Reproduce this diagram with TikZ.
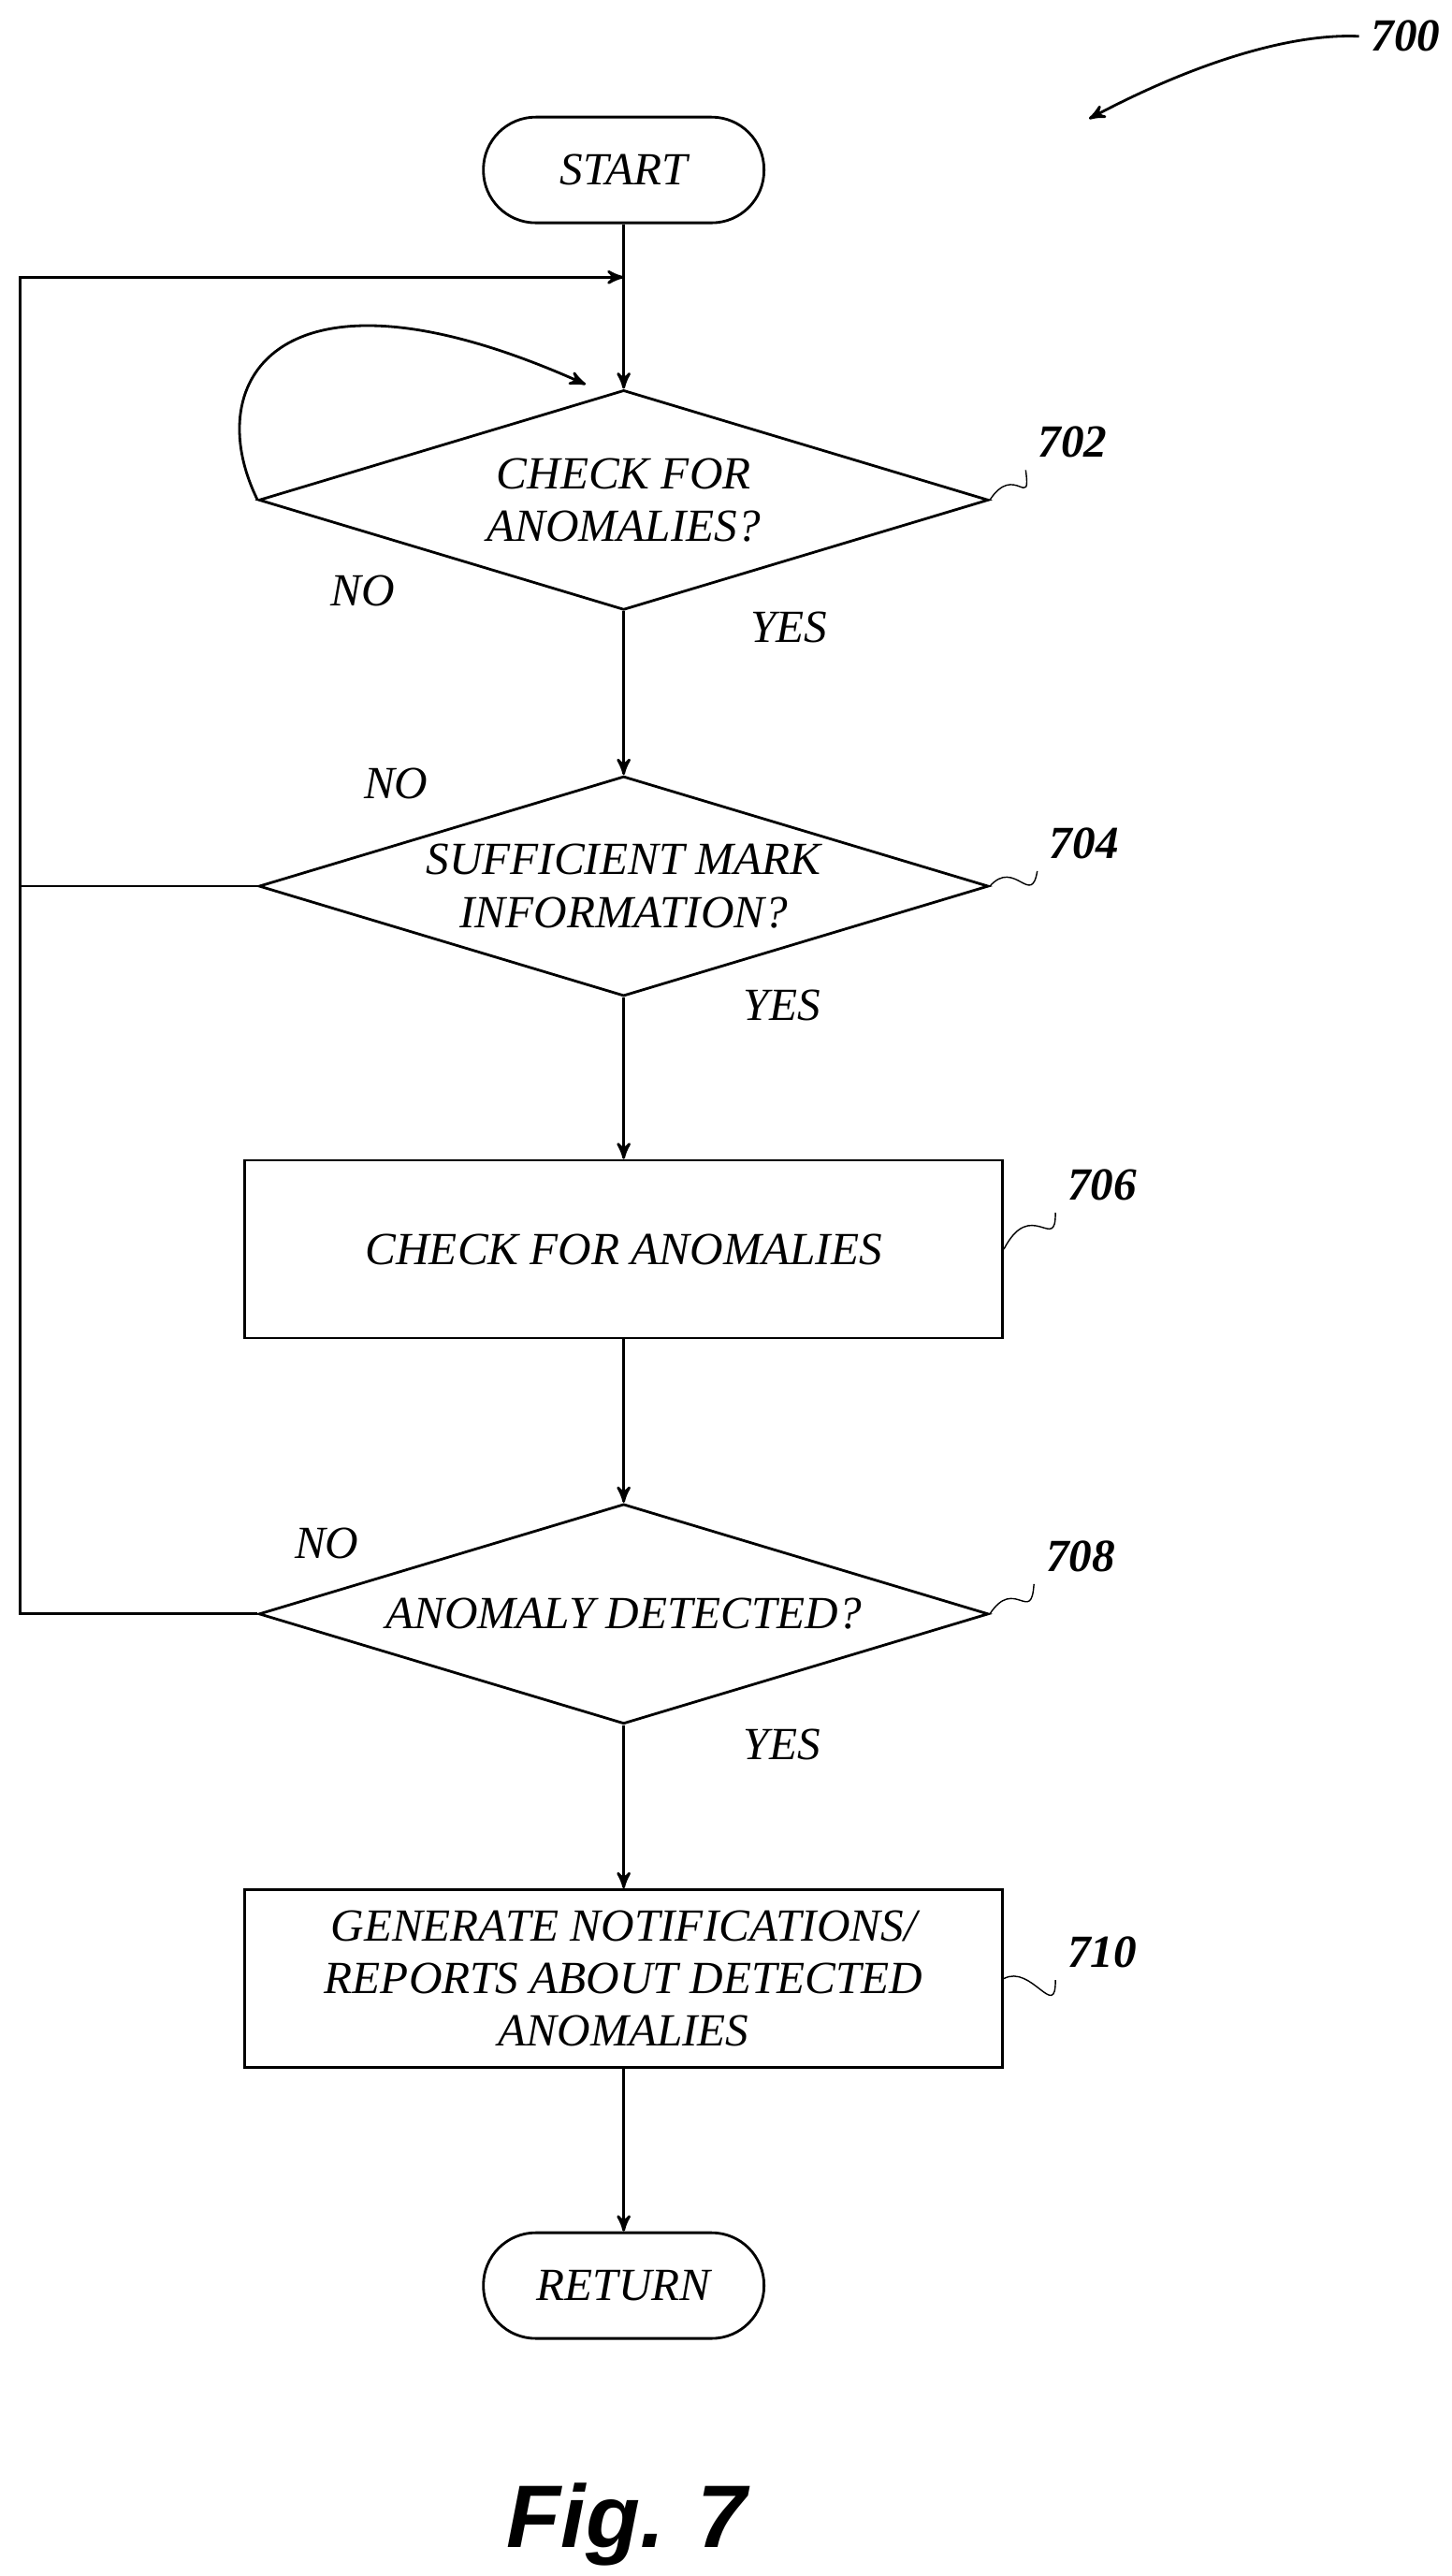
\documentclass[tikz,border=0pt]{standalone}
\usepackage{fontspec}
\setmainfont{Liberation Serif}
\setsansfont{Liberation Sans}
\usetikzlibrary{arrows,shapes.geometric,positioning}
\begin{document}
\begin{tikzpicture}[x=0.017636cm,y=-0.017636cm,->,>=stealth',thick,
	every node/.style={font=\itshape\fontsize{14}{16}\selectfont,align=center},
	term node/.style={draw,rounded corners=0.56cm,minimum width=3cm,minimum height=1.13cm},
	dec node/.style={draw,diamond,inner sep=0pt,minimum width=7.8cm,minimum height=2.35cm},
	proc node/.style={draw,rectangle,minimum width=8.1cm,minimum height=1.9cm},
	ref label/.style={font=\itshape\bfseries\fontsize{14}{16}\selectfont}]
	\useasboundingbox (0,0) rectangle (880,1561);

	\node[term node] (start) at (378,103) {START};
	\node[dec node]  (d702)  at (378,303) {};
	\node[dec node]  (d704)  at (378,537) {};
	\node[proc node] (p706)  at (378,757) {CHECK FOR ANOMALIES};
	\node[dec node]  (d708)  at (378,978) {};
	\node[proc node] (p710)  at (378,1199) {GENERATE NOTIFICATIONS/\\REPORTS ABOUT DETECTED\\ANOMALIES};
	\node[term node] (ret)   at (378,1385) {RETURN};
	\node (t702) at (d702) {CHECK FOR\\ANOMALIES?};
	\node (t704) at (d704) {SUFFICIENT MARK\\INFORMATION?};
	\node (t708) at (d708) {ANOMALY DETECTED?};
	\coordinate (join) at (378,168);

	\draw (start) -- (d702);
	\draw (d702) -- (d704);
	\draw (d704) -- (p706);
	\draw (p706) -- (d708);
	\draw (d708) -- (p710);
	\draw (p710) -- (ret);
	% loops back to the top
	\draw (d708.west) -- (12,978) |- (join);
	\draw[-] (d704.west) -- (12,537);
	\draw (d702.west) .. controls (120,230) and (170,150) .. (355,233);

	\node at (220,358) {NO};
	\node at (478,380) {YES};
	\node at (240,475) {NO};
	\node at (474,609) {YES};
	\node at (198,935) {NO};
	\node at (474,1057) {YES};

	% reference numerals
	\node[ref label] (n700) at (852,22) {700};
	\draw (n700.west) .. controls (780,20) and (720,40) .. (660,72);
	\node[ref label] (n702) at (650,268) {702};
	\draw[-,thin] (d702.east) .. controls (615,280) and (625,310) .. (n702.south west);
	\node[ref label] (n704) at (657,511) {704};
	\draw[-,thin] (d704.east) .. controls (615,520) and (625,550) .. (n704.south west);
	\node[ref label] (n706) at (668,718) {706};
	\draw[-,thin] (p706.east) .. controls (625,725) and (640,760) .. (n706.south west);
	\node[ref label] (n708) at (655,943) {708};
	\draw[-,thin] (d708.east) .. controls (615,955) and (625,985) .. (n708.south west);
	\node[ref label] (n710) at (668,1183) {710};
	\draw[-,thin] (p710.east) .. controls (625,1190) and (640,1225) .. (n710.south west);

	\node[font=\sffamily\bfseries\itshape\fontsize{27}{30}\selectfont] (fig) at (380,1530) {Fig. 7};
\end{tikzpicture}
\end{document}
